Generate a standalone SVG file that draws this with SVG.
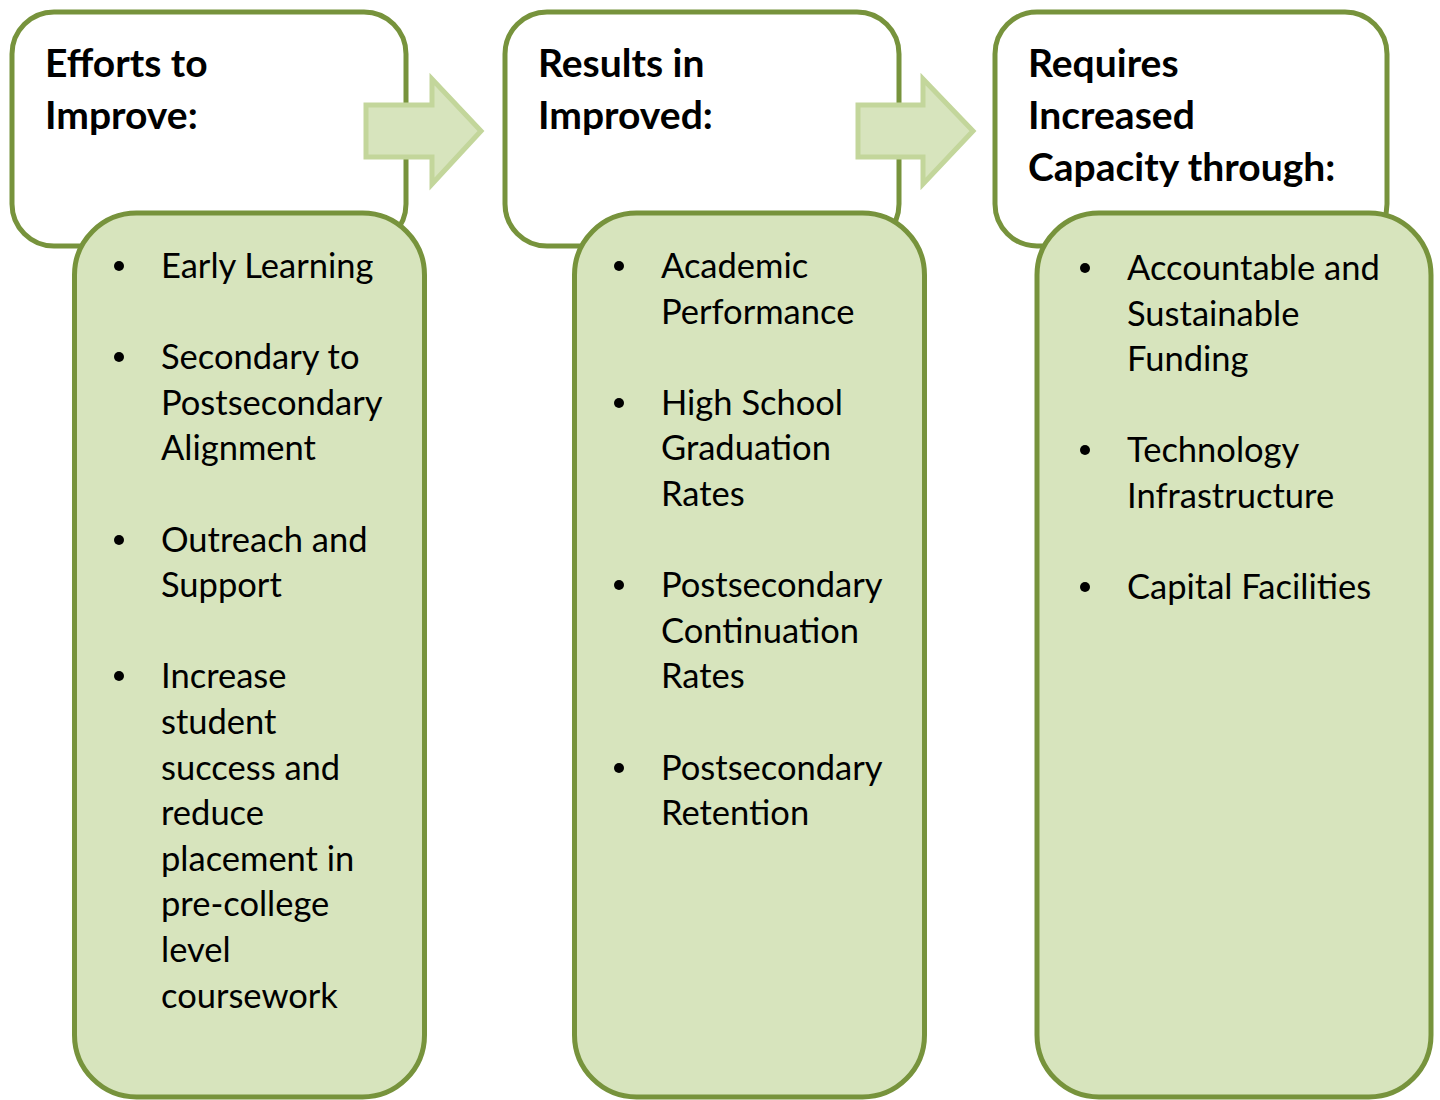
<svg xmlns="http://www.w3.org/2000/svg" width="1440" height="1100" viewBox="0 0 1440 1100">
  <style>
    .head { fill: #ffffff; stroke: #77933C; stroke-width: 5; }
    .list { fill: #D7E4BD; stroke: #77933C; stroke-width: 5; }
    .arrow { fill: #D7E4BD; stroke: #C3D69B; stroke-width: 5; stroke-linejoin: miter; }
    .title { font-family: Lato, "Open Sans", "Liberation Sans", sans-serif; font-weight: 700; font-size: 39px; fill: #000; }
    .item { font-family: Lato, "Open Sans", "Liberation Sans", sans-serif; font-size: 34.5px; fill: #000; }
    .dot { fill: #000; }
  </style>
  <rect width="1440" height="1100" fill="#ffffff"/>

  <g id="efforts">
    <rect class="head" x="12" y="12" width="394" height="234" rx="42" ry="42"/>
    <text class="title" x="45" y="77">Efforts to</text>
    <text class="title" x="45" y="129">Improve:</text>
  </g>
  <g id="results">
    <rect class="head" x="505" y="12" width="394" height="234" rx="42" ry="42"/>
    <text class="title" x="538" y="77">Results in</text>
    <text class="title" x="538" y="129">Improved:</text>
  </g>
  <g id="requires">
    <rect class="head" x="995" y="12" width="392" height="234" rx="42" ry="42"/>
    <text class="title" x="1028" y="77">Requires</text>
    <text class="title" x="1028" y="129">Increased</text>
    <text class="title" x="1028" y="181">Capacity through:</text>
  </g>

  <g id="efforts-list">
    <rect class="list" x="74.5" y="213" width="350" height="884" rx="62" ry="62"/>
    <circle class="dot" cx="119" cy="266" r="5"/>
    <text class="item" x="161" y="278">Early Learning</text>
    <circle class="dot" cx="119" cy="357" r="5"/>
    <text class="item" x="161" y="369">Secondary to</text>
    <text class="item" x="161" y="415">Postsecondary</text>
    <text class="item" x="161" y="460">Alignment</text>
    <circle class="dot" cx="119" cy="540" r="5"/>
    <text class="item" x="161" y="552">Outreach and</text>
    <text class="item" x="161" y="597">Support</text>
    <circle class="dot" cx="119" cy="676" r="5"/>
    <text class="item" x="161" y="688">Increase</text>
    <text class="item" x="161" y="734">student</text>
    <text class="item" x="161" y="780">success and</text>
    <text class="item" x="161" y="825">reduce</text>
    <text class="item" x="161" y="871">placement in</text>
    <text class="item" x="161" y="916">pre-college</text>
    <text class="item" x="161" y="962">level</text>
    <text class="item" x="161" y="1008">coursework</text>
  </g>

  <g id="results-list">
    <rect class="list" x="574.5" y="213" width="350" height="884" rx="62" ry="62"/>
    <circle class="dot" cx="619" cy="266" r="5"/>
    <text class="item" x="661" y="278">Academic</text>
    <text class="item" x="661" y="324">Performance</text>
    <circle class="dot" cx="619" cy="403" r="5"/>
    <text class="item" x="661" y="415">High School</text>
    <text class="item" x="661" y="460">Graduation</text>
    <text class="item" x="661" y="506">Rates</text>
    <circle class="dot" cx="619" cy="585" r="5"/>
    <text class="item" x="661" y="597">Postsecondary</text>
    <text class="item" x="661" y="643">Continuation</text>
    <text class="item" x="661" y="688">Rates</text>
    <circle class="dot" cx="619" cy="768" r="5"/>
    <text class="item" x="661" y="780">Postsecondary</text>
    <text class="item" x="661" y="825">Retention</text>
  </g>

  <g id="requires-list">
    <rect class="list" x="1037" y="213" width="394" height="884" rx="62" ry="62"/>
    <circle class="dot" cx="1085" cy="268" r="5"/>
    <text class="item" x="1127" y="280">Accountable and</text>
    <text class="item" x="1127" y="326">Sustainable</text>
    <text class="item" x="1127" y="371">Funding</text>
    <circle class="dot" cx="1085" cy="450" r="5"/>
    <text class="item" x="1127" y="462">Technology</text>
    <text class="item" x="1127" y="508">Infrastructure</text>
    <circle class="dot" cx="1085" cy="587" r="5"/>
    <text class="item" x="1127" y="599">Capital Facilities</text>
  </g>

  <g id="connectors">
    <polygon class="arrow" points="366,105 432,105 432,79 481,131 432,184 432,157 366,157"/>
    <polygon class="arrow" points="858,105 923,105 923,79 973,131 923,184 923,157 858,157"/>
  </g>
</svg>
